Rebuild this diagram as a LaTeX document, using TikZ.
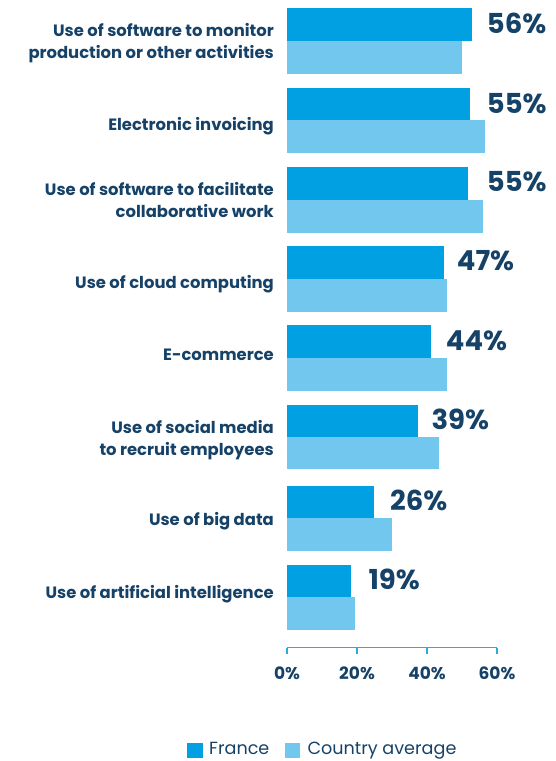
\documentclass[tikz,border=0pt]{standalone}
\usepackage{fontspec}
\setmainfont{Poppins}
\usepackage{tikz}
\definecolor{france}{RGB}{0,160,226}
\definecolor{countryavg}{RGB}{114,199,239}
\definecolor{navy}{RGB}{22,66,104}
\definecolor{axisblue}{RGB}{41,171,226}

\begin{document}
\begin{tikzpicture}[x=1pt,y=-1pt,
  catlabel/.style={anchor=base east,align=right,inner sep=0pt,text=navy,font=\bfseries\fontsize{16.4}{21.7}\selectfont},
  pctlabel/.style={anchor=base west,inner sep=0pt,text=navy,font=\bfseries\fontsize{27.5}{30}\selectfont},
  ticklabel/.style={anchor=base,inner sep=0pt,text=navy,font=\bfseries\fontsize{17}{20}\selectfont},
  keylabel/.style={anchor=base west,inner sep=0pt,text=navy,font=\fontsize{17.6}{22}\selectfont},
  axisline/.style={draw=axisblue,line width=1.3pt}]
%%Frame
\useasboundingbox (0,0) rectangle (556,761);
%%Bars France
\fill[france] (287,8) rectangle (472,41);
\fill[france] (287,88) rectangle (469.7,119.7);
\fill[france] (287,166.7) rectangle (468,200);
\fill[france] (287,246) rectangle (444,278.7);
\fill[france] (287,325) rectangle (431,357.7);
\fill[france] (287,405) rectangle (418,436.7);
\fill[france] (287,486) rectangle (374,517.7);
\fill[france] (287,565) rectangle (351,597);
%%Bars country average
\fill[countryavg] (287,41) rectangle (462,74);
\fill[countryavg] (287,119.7) rectangle (485,152.7);
\fill[countryavg] (287,200) rectangle (483,232.7);
\fill[countryavg] (287,278.7) rectangle (447,311.7);
\fill[countryavg] (287,357.7) rectangle (447,390.7);
\fill[countryavg] (287,436.7) rectangle (439,469.3);
\fill[countryavg] (287,517.7) rectangle (392,550.7);
\fill[countryavg] (287,597) rectangle (355,629.7);
%%Categories (base = last line)
\draw (274,58.4) node (cat1) [catlabel] {Use of software to monitor\\production or other activities};
\draw (274,130) node (cat2) [catlabel] {Electronic invoicing};
\draw (274,217.3) node (cat3) [catlabel] {Use of software to facilitate\\collaborative work};
\draw (274,288.3) node (cat4) [catlabel] {Use of cloud computing};
\draw (274,360.7) node (cat5) [catlabel] {E-commerce};
\draw (274,455) node (cat6) [catlabel] {Use of social media\\to recruit employees};
\draw (274,525.7) node (cat7) [catlabel] {Use of big data};
\draw (274,598.3) node (cat8) [catlabel] {Use of artificial intelligence};
%%Values
\draw (486.7,33.3) node (val1) [pctlabel] {56\%};
\draw (486.7,113) node (val2) [pctlabel] {55\%};
\draw (486.7,191.7) node (val3) [pctlabel] {55\%};
\draw (456.7,270.7) node (val4) [pctlabel] {47\%};
\draw (445.7,350) node (val5) [pctlabel] {44\%};
\draw (431.3,429) node (val6) [pctlabel] {39\%};
\draw (390,510.7) node (val7) [pctlabel] {26\%};
\draw (368.3,589.3) node (val8) [pctlabel] {19\%};
%%Axis
\coordinate (x0) at (287,647.7);
\coordinate (x60) at (497,647.7);
\draw[axisline] (x0) -- (x60);
\draw[axisline] (287,647.7) -- (287,653.5);
\draw[axisline] (357,647.7) -- (357,653.5);
\draw[axisline] (427,647.7) -- (427,653.5);
\draw[axisline] (497,647.7) -- (497,653.5);
\draw (287,679.3) node (t0) [ticklabel] {0\%};
\draw (357,679.3) node (t20) [ticklabel] {20\%};
\draw (427,679.3) node (t40) [ticklabel] {40\%};
\draw (497,679.3) node (t60) [ticklabel] {60\%};
%%Legend
\fill[france] (187.3,742.5) rectangle (202.7,757.5);
\draw (209,754.5) node (keyfr) [keylabel] {France};
\fill[countryavg] (285,742.5) rectangle (300.3,757.5);
\draw (307.3,754.5) node (keyavg) [keylabel] {Country average};
\end{tikzpicture}
\end{document}
